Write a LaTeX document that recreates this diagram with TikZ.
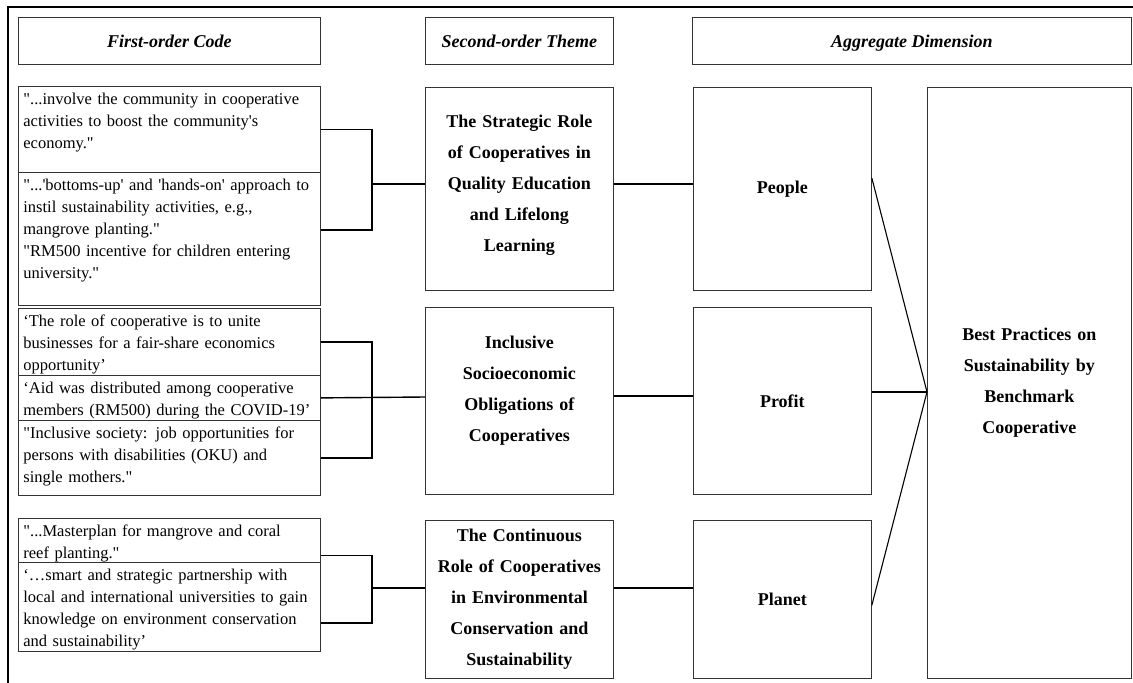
\documentclass[tikz,border=0pt]{standalone}
\usepackage{fontspec}
\setmainfont{Liberation Serif}[Ligatures=TeXOff]
\usetikzlibrary{positioning}

\begin{document}
\begin{tikzpicture}[x=1pt,y=-1pt,
  box/.style={draw=black!80,line width=0.8pt,inner sep=0pt,anchor=north west},
  headbox/.style={box,minimum height=47pt,text height=15pt,text depth=2pt,font=\fontsize{18pt}{22pt}\selectfont\bfseries\itshape},
  codebox/.style={box,text width=292pt,inner xsep=5pt,inner ysep=3pt,align=left,text height=15pt,font=\fontsize{16.5pt}{22pt}\selectfont},
  themebox/.style={box,minimum width=188pt,text width=180pt,align=center,font=\fontsize{18pt}{31pt}\selectfont\bfseries},
  dimbox/.style={box,minimum width=178pt,align=center,font=\fontsize{18pt}{31pt}\selectfont\bfseries},
  link/.style={line width=1.4pt},
  thinlink/.style={line width=1.1pt},
  frame/.style={line width=2.2pt}]
\useasboundingbox (0,0) rectangle (1133,683);
\draw[frame] (8,690) |- (1140,7);

% column heads
\node[headbox,minimum width=302pt] (h1) at (18,17) {First-order Code};
\node[headbox,minimum width=188pt] (h2) at (425,17) {Second-order Theme};
\node[headbox,minimum width=439pt] (h3) at (692,17) {Aggregate Dimension};

% first-order codes
\node[codebox,text depth=65pt] (c1) at (18,86) {"...involve the community in cooperative\\activities to boost the community's\\economy."};
\node[codebox,text depth=112pt] (c2) at (18,172) {"...'bottoms-up' and 'hands-on' approach to\\instil sustainability activities, e.g.,\\mangrove planting."\\"RM500 incentive for children entering\\university."};
\node[codebox,text depth=46pt] (c3) at (18,308) {‘The role of cooperative is to unite\\businesses for a fair-share economics\\opportunity’};
\node[codebox,text depth=24pt] (c4) at (18,375) {‘Aid was distributed among cooperative\\members (RM500) during the COVID-19’};
\node[codebox,text depth=54pt] (c5) at (18,420) {"Inclusive society: job opportunities for\\persons with disabilities (OKU) and\\single mothers."};
\node[codebox,text depth=23pt] (c6) at (18,518) {"...Masterplan for mangrove and coral\\reef planting."};
\node[codebox,text depth=68pt] (c7) at (18,562) {‘…smart and strategic partnership with\\local and international universities to gain\\knowledge on environment conservation\\and sustainability’};

% second-order themes
\node[themebox,minimum height=203pt,text depth=135pt] (t1) at (425,87) {The Strategic Role\\of Cooperatives in\\Quality Education\\and Lifelong\\Learning};
\node[themebox,minimum height=187pt,text depth=117pt] (t2) at (425,307) {Inclusive\\Socioeconomic\\Obligations of\\Cooperatives};
\node[themebox,minimum height=158pt] (t3) at (425,520) {The Continuous\\Role of Cooperatives\\in Environmental\\Conservation and\\Sustainability};

% aggregate dimensions
\node[dimbox,minimum height=203pt] (d1) at (693,87) {People};
\node[dimbox,minimum height=187pt] (d2) at (693,307) {Profit};
\node[dimbox,minimum height=158pt] (d3) at (693,520) {Planet};
\node[dimbox,minimum width=204pt,minimum height=591pt,text width=196pt] (agg) at (927,87) {Best Practices on\\Sustainability by\\Benchmark\\Cooperative};

% brackets
\coordinate (b1) at (372,184);
\coordinate (b2) at (372,397);
\coordinate (b3) at (372,588);
\draw[link] (c1.east) -| (b1) |- ([yshift=9pt]c2.east);
\draw[link] (b1) -- (t1.west |- b1);
\draw[link] (c3.east) -| (b2) |- (c5.east);
\draw[link] (c4.east) -- (t2.west |- b2);
\draw[link] ([yshift=-15pt]c6.east) -| (b3) |- ([yshift=-16pt]c7.east);
\draw[link] (b3) -- (t3.west |- b3);

\draw[link] (t1.east |- b1) -- (d1.west |- b1);
\draw[link] ([yshift=5pt]t2.east) -- ([yshift=5pt]d2.west);
\draw[link] (t3.east |- b3) -- (d3.west |- b3);

\coordinate (hub) at ([yshift=-9pt]agg.west);
\draw[thinlink] ([yshift=11pt]d1.east) -- (hub);
\draw[link] (d2.east |- hub) -- (hub);
\draw[thinlink] ([yshift=-6pt]d3.east) -- (hub);
\end{tikzpicture}
\end{document}
